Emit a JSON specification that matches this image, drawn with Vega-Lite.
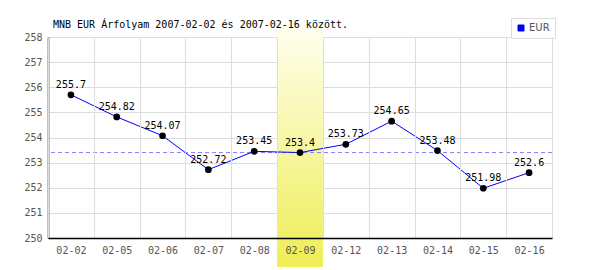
{
  "$schema": "https://vega.github.io/schema/vega-lite/v6.json",
  "autosize": "none",
  "width": 504,
  "height": 201,
  "padding": {"left": 48, "top": 37, "right": 48, "bottom": 32},
  "background": "white",
  "title": {
    "text": "MNB EUR Árfolyam 2007-02-02 és 2007-02-16 között.",
    "anchor": "start",
    "frame": "group",
    "dx": 5,
    "dy": 20,
    "offset": 8,
    "font": "DejaVu Sans Mono",
    "fontSize": 10,
    "fontWeight": "normal",
    "color": "black"
  },
  "config": {
    "view": {"stroke": null},
    "axis": {
      "labelFont": "DejaVu Sans Mono",
      "labelFontSize": 10,
      "labelColor": "#555555",
      "gridColor": "#dddddd",
      "gridWidth": 1,
      "domainColor": "black",
      "domainWidth": 1.5,
      "ticks": false,
      "title": null
    }
  },
  "data": {
    "values": [
      {"date": "02-02", "value": 255.7, "series": "EUR", "selected": false},
      {"date": "02-05", "value": 254.82, "series": "EUR", "selected": false},
      {"date": "02-06", "value": 254.07, "series": "EUR", "selected": false},
      {"date": "02-07", "value": 252.72, "series": "EUR", "selected": false},
      {"date": "02-08", "value": 253.45, "series": "EUR", "selected": false},
      {"date": "02-09", "value": 253.4, "series": "EUR", "selected": true},
      {"date": "02-12", "value": 253.73, "series": "EUR", "selected": false},
      {"date": "02-13", "value": 254.65, "series": "EUR", "selected": false},
      {"date": "02-14", "value": 253.48, "series": "EUR", "selected": false},
      {"date": "02-15", "value": 251.98, "series": "EUR", "selected": false},
      {"date": "02-16", "value": 252.6, "series": "EUR", "selected": false}
    ]
  },
  "encoding": {
    "x": {
      "field": "date",
      "type": "nominal",
      "sort": ["02-02", "02-05", "02-06", "02-07", "02-08", "02-09", "02-12", "02-13", "02-14", "02-15", "02-16"],
      "scale": {"type": "band", "paddingInner": 0, "paddingOuter": 0},
      "axis": {"grid": true, "tickBand": "extent", "labelAngle": 0, "labelPadding": 7, "zindex": 1}
    },
    "y": {
      "field": "value",
      "type": "quantitative",
      "scale": {"domain": [250, 258], "nice": false, "zero": false},
      "axis": {"grid": true, "values": [250, 251, 252, 253, 254, 255, 256, 257, 258], "labelPadding": 6, "labelOverlap": false, "zindex": 0}
    }
  },
  "layer": [
    {
      "transform": [{"filter": "datum.selected"}],
      "mark": {
        "type": "rect",
        "fill": {
          "gradient": "linear",
          "x1": 0, "y1": 0, "x2": 0, "y2": 1,
          "stops": [
            {"offset": 0, "color": "#fffff0"},
            {"offset": 1, "color": "#eeee55"}
          ]
        }
      },
      "encoding": {
        "y": {
          "datum": 258.5,
          "type": "quantitative",
          "scale": {"domain": [250, 258], "nice": false, "zero": false},
          "axis": {"grid": true, "values": [250, 251, 252, 253, 254, 255, 256, 257, 258], "labelPadding": 6, "labelOverlap": false, "zindex": 0}
        },
        "y2": {"datum": 248.85}
      }
    },
    {
      "transform": [{"filter": "datum.selected"}],
      "mark": {"type": "rule", "color": "#8080ff", "strokeDash": [4, 3], "strokeWidth": 1},
      "encoding": {"x": null}
    },
    {
      "mark": {"type": "line", "strokeWidth": 1},
      "encoding": {
        "color": {
          "field": "series",
          "type": "nominal",
          "scale": {"range": ["#0000ff"]},
          "legend": {
            "orient": "none",
            "legendX": 463,
            "legendY": -19,
            "title": null,
            "symbolType": "square",
            "symbolSize": 36,
            "labelFont": "DejaVu Sans",
            "labelFontSize": 10,
            "labelColor": "#555555",
            "labelOffset": 3,
            "padding": 5,
            "strokeColor": "#dddddd",
            "fillColor": "white",
            "cornerRadius": 0,
            "encode": {
              "symbols": {"update": {"fill": {"value": "#0000ff"}, "stroke": {"value": "#000080"}, "strokeWidth": {"value": 1}}}
            }
          }
        }
      }
    },
    {
      "mark": {"type": "circle", "color": "black", "size": 45, "opacity": 1}
    },
    {
      "mark": {"type": "text", "font": "DejaVu Sans Mono", "fontSize": 10, "color": "black", "baseline": "alphabetic", "dy": -7},
      "encoding": {
        "text": {"field": "value", "type": "quantitative"}
      }
    }
  ]
}
